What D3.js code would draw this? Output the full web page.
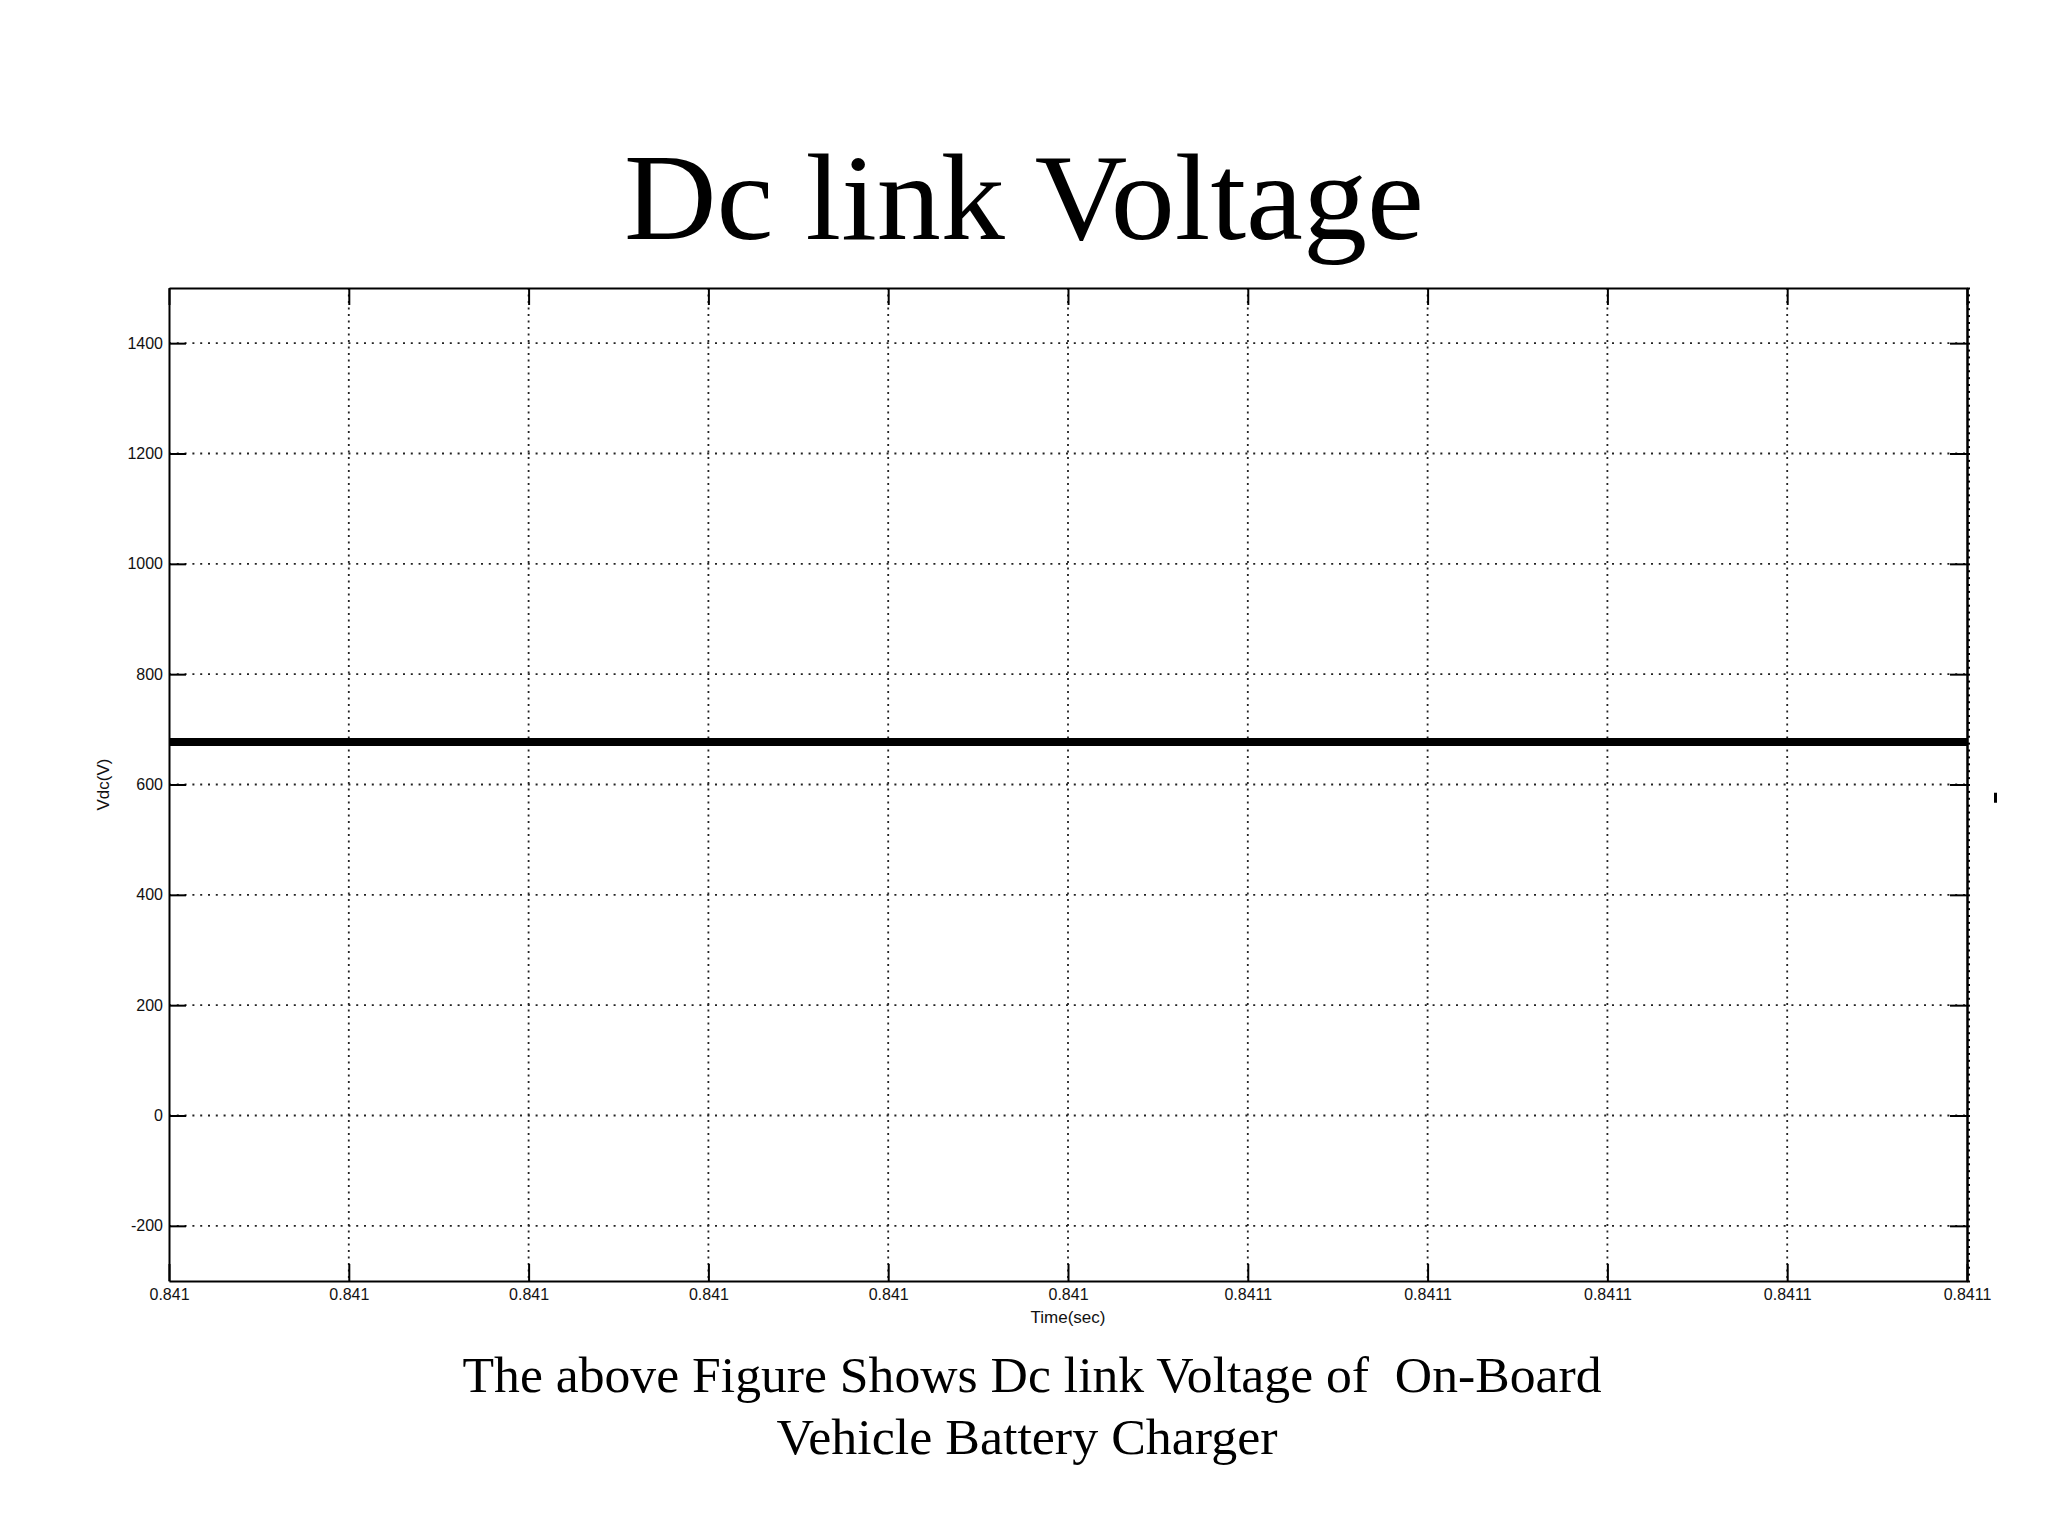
<!DOCTYPE html>
<html>
<head>
<meta charset="utf-8">
<script src="https://d3js.org/d3.v7.min.js"></script>
<style>
  html, body { margin: 0; padding: 0; background: #ffffff; }
  svg { display: block; }
</style>
</head>
<body>
<div id="chart"></div>
<script>
// Data
var timeValues = [0.840995, 0.841005, 0.841015, 0.841025, 0.841035, 0.841045, 0.841055, 0.841065, 0.841075, 0.841085, 0.841095];
var vdcValues = [677, 677, 677, 677, 677, 677, 677, 677, 677, 677, 677];
var xTickValues = [0.840995, 0.841005, 0.841015, 0.841025, 0.841035, 0.841045, 0.841055, 0.841065, 0.841075, 0.841085, 0.841095];
var xTickLabels = ["0.841", "0.841", "0.841", "0.841", "0.841", "0.841", "0.8411", "0.8411", "0.8411", "0.8411", "0.8411"];
var yTickValues = [-200, 0, 200, 400, 600, 800, 1000, 1200, 1400];
var yTickLabels = ["-200", "0", "200", "400", "600", "800", "1000", "1200", "1400"];
var titleText = "Dc link Voltage";
var captionLines = ["The above Figure Shows Dc link Voltage of  On-Board", "Vehicle Battery Charger"];

var W = 2048, H = 1536;
var margin = { top: 288, right: 81, bottom: 255, left: 169 };
var width = W - margin.left - margin.right;
var height = H - margin.top - margin.bottom;
var tickLen = 17;

var svg = d3.select("#chart").append("svg")
    .attr("width", W)
    .attr("height", H)
    .style("background", "#ffffff");

// Title
svg.append("text")
    .attr("x", 1024)
    .attr("y", 239)
    .attr("text-anchor", "middle")
    .attr("textLength", 800)
    .attr("lengthAdjust", "spacingAndGlyphs")
    .style("font-family", "'Liberation Serif', 'Times New Roman', serif")
    .style("font-size", "123px")
    .style("fill", "#000")
    .text(titleText);

var g = svg.append("g")
    .attr("transform", "translate(" + margin.left + "," + margin.top + ")");

var x = d3.scaleLinear().domain([0.840995, 0.841095]).range([0, width]);
var y = d3.scaleLinear().domain([-300, 1500]).range([height, 0]);

// dotted grid
g.append("g").selectAll("line.hgrid")
    .data(yTickValues)
    .enter().append("line")
    .attr("x1", 0).attr("x2", width)
    .attr("y1", d => y(d)).attr("y2", d => y(d))
    .attr("stroke", "#222")
    .attr("stroke-width", 1.8)
    .attr("stroke-dasharray", "2,5.8");

g.append("g").selectAll("line.vgrid")
    .data(xTickValues.slice(1, -1))
    .enter().append("line")
    .attr("x1", d => x(d)).attr("x2", d => x(d))
    .attr("y1", 0).attr("y2", height)
    .attr("stroke", "#222")
    .attr("stroke-width", 1.8)
    .attr("stroke-dasharray", "2,4.5");

// data line
var line = d3.line()
    .x((d, i) => x(timeValues[i]))
    .y(d => y(d));

g.append("path")
    .datum(vdcValues)
    .attr("d", line)
    .attr("fill", "none")
    .attr("stroke", "#000")
    .attr("stroke-width", 8);

// axes (matlab style ticks pointing inward)
var xAxisBottom = d3.axisBottom(x)
    .tickValues(xTickValues)
    .tickFormat((d, i) => xTickLabels[i])
    .tickSizeInner(-tickLen)
    .tickSizeOuter(0)
    .tickPadding(8);

var xAxisTop = d3.axisTop(x)
    .tickValues(xTickValues)
    .tickFormat("")
    .tickSizeInner(-tickLen)
    .tickSizeOuter(0);

var yAxisLeft = d3.axisLeft(y)
    .tickValues(yTickValues)
    .tickFormat((d, i) => yTickLabels[i])
    .tickSizeInner(-tickLen)
    .tickSizeOuter(0)
    .tickPadding(6);

var yAxisRight = d3.axisRight(y)
    .tickValues(yTickValues)
    .tickFormat("")
    .tickSizeInner(-tickLen)
    .tickSizeOuter(0);

// little minor ticks on the right edge
var minorTicks = d3.range(-300, 1500.1, 12.5);
var yAxisRightMinor = d3.axisRight(y)
    .tickValues(minorTicks)
    .tickFormat("")
    .tickSizeInner(3)
    .tickSizeOuter(0);

function styleAxis(sel) {
    sel.selectAll("path.domain").attr("stroke", "#000").attr("stroke-width", 2);
    sel.selectAll(".tick line").attr("stroke", "#000").attr("stroke-width", 2);
    sel.selectAll("text")
        .style("font-family", "'Liberation Sans', Arial, sans-serif")
        .style("font-size", "16px")
        .style("fill", "#111");
}

g.append("g").attr("transform", "translate(0," + height + ")").call(xAxisBottom).call(styleAxis);
g.append("g").call(xAxisTop).call(styleAxis);
g.append("g").call(yAxisLeft).call(styleAxis);
g.append("g").attr("transform", "translate(" + width + ",0)").call(yAxisRight).call(styleAxis);
g.append("g").attr("transform", "translate(" + width + ",0)").call(yAxisRightMinor).call(styleAxis);

// stray mark to the right of the axes
g.append("rect")
    .attr("x", width + 27)
    .attr("y", y(576) - 5)
    .attr("width", 3)
    .attr("height", 10)
    .attr("fill", "#000");

// axis labels
g.append("text")
    .attr("x", width / 2)
    .attr("y", height + 42)
    .attr("text-anchor", "middle")
    .style("font-family", "'Liberation Sans', Arial, sans-serif")
    .style("font-size", "17px")
    .style("fill", "#111")
    .text("Time(sec)");

g.append("text")
    .attr("transform", "translate(" + (103 - margin.left) + "," + y(600) + ") rotate(-90)")
    .attr("text-anchor", "middle")
    .attr("dy", "0.35em")
    .style("font-family", "'Liberation Sans', Arial, sans-serif")
    .style("font-size", "17px")
    .style("fill", "#111")
    .text("Vdc(V)");

// caption below the chart
var captionX = [1032, 1027];
var captionLen = [1139, 501];
svg.selectAll("text.caption")
    .data(captionLines)
    .enter().append("text")
    .attr("class", "caption")
    .attr("x", (d, i) => captionX[i])
    .attr("y", (d, i) => 1392 + i * 62)
    .attr("text-anchor", "middle")
    .attr("textLength", (d, i) => captionLen[i])
    .attr("lengthAdjust", "spacingAndGlyphs")
    .style("white-space", "pre")
    .style("font-family", "'Liberation Serif', 'Times New Roman', serif")
    .style("font-size", "50px")
    .style("fill", "#000")
    .text(d => d);
</script>
</body>
</html>
